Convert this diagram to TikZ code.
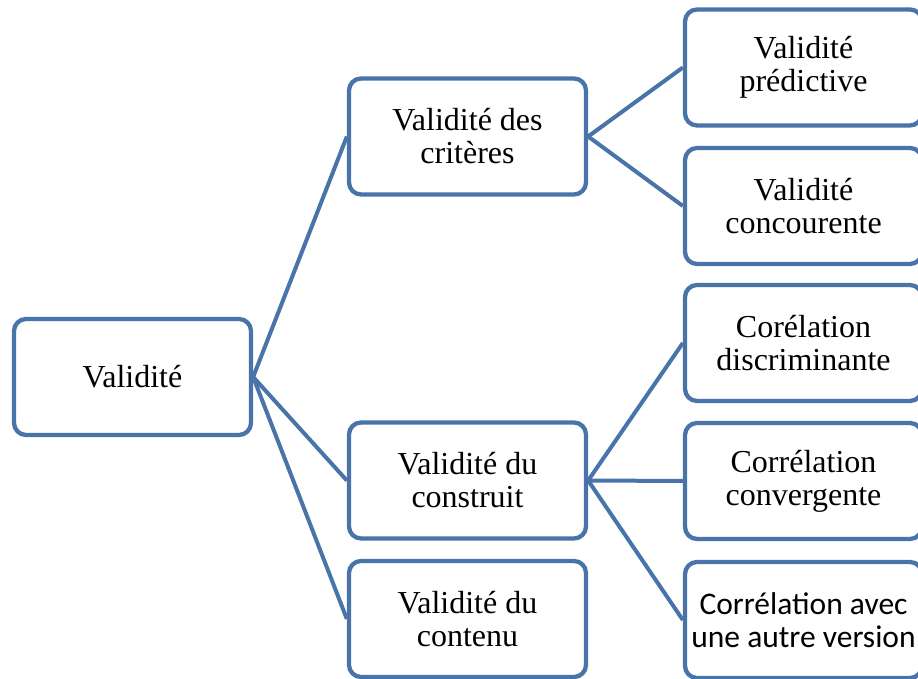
\documentclass[tikz,border=0pt]{standalone}
\usepackage{fontspec}
\newfontfamily\serifbody{Liberation Serif}
\newfontfamily\sansbody{Carlito}
\definecolor{boxblue}{RGB}{72,116,170}
\begin{document}
\begin{tikzpicture}[x=1pt,y=1pt,
  card/.style={draw=boxblue, line width=4.3pt, rounded corners=12pt, fill=white,
    minimum width=237pt, minimum height=116pt, align=center, inner sep=0pt,
    font=\serifbody\fontsize{32}{33}\selectfont},
  link/.style={draw=boxblue, line width=4pt}]
\clip (0,0) rectangle (918,679);
% boxes
\node[card] (root) at (132.5,302) {Validité};
\node[card] (crit) at (467.5,542.5) {Validité des\\critères};
\node[card] (cons) at (467.5,198.5) {Validité du\\construit};
\node[card] (cont) at (467.5,60) {Validité du\\contenu};
\node[card] (pred) at (803.5,611.5) {Validité\\prédictive};
\node[card] (conc) at (803.5,473) {Validité\\concourente};
\node[card] (disc) at (803.5,336) {Corélation\\discriminante};
\node[card] (conv) at (803.5,198) {Corrélation\\convergente};
\node[card, font=\sansbody\fontsize{31.5}{33}\selectfont] (autre) at (803.5,59) {Corrélation avec\\une autre version};
% links between boxes
\draw[link] (root.east) -- (crit.west);
\draw[link] (root.east) -- (cons.west);
\draw[link] (root.east) -- (cont.west);
\draw[link] (crit.east) -- (pred.west);
\draw[link] (crit.east) -- (conc.west);
\draw[link] (cons.east) -- (disc.west);
\draw[link] (cons.east) -- (conv.west);
\draw[link] (cons.east) -- (autre.west);
\end{tikzpicture}
\end{document}
